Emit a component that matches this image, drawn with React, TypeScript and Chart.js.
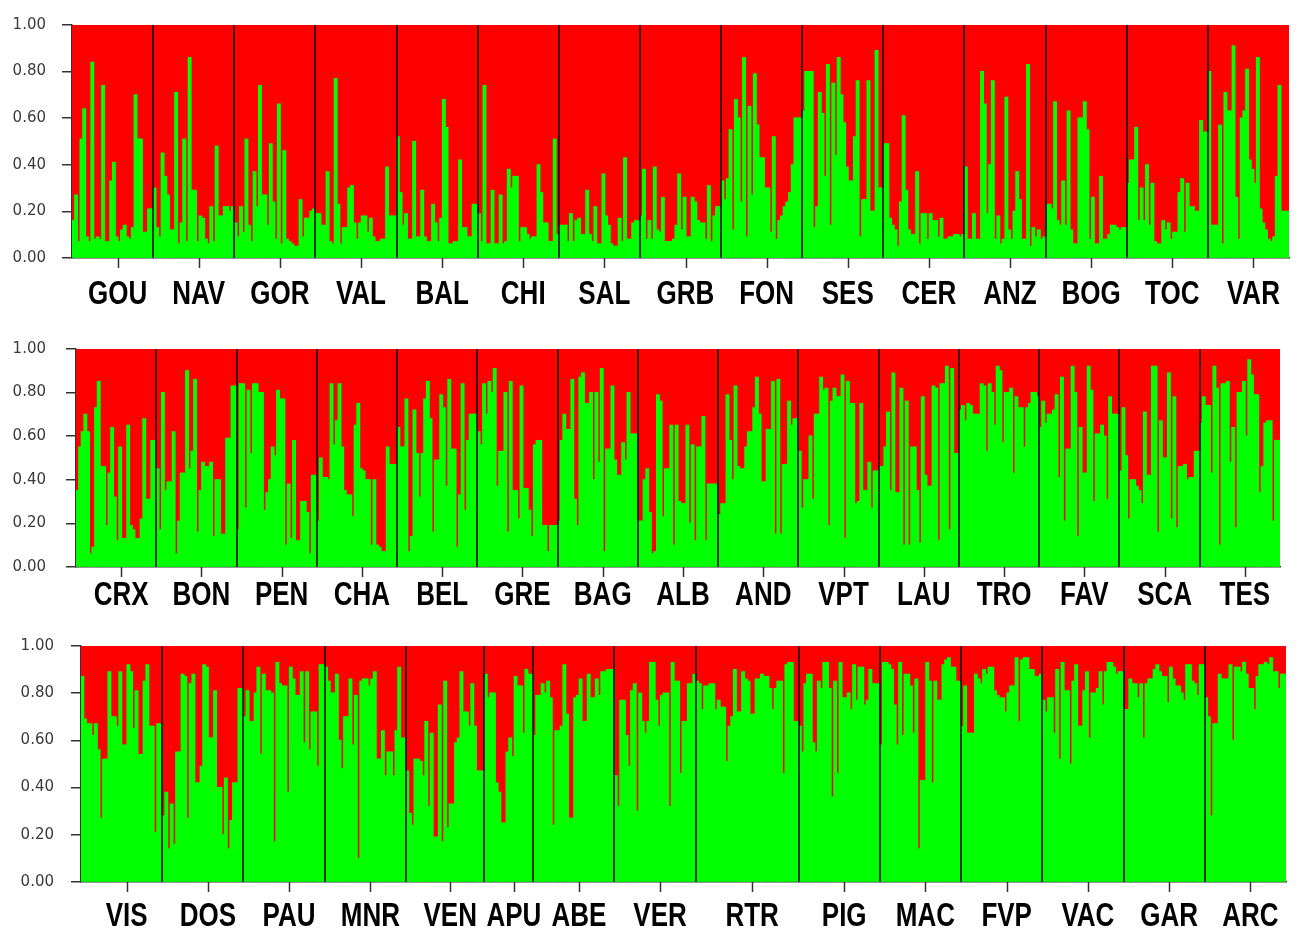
import React, { useEffect, useRef } from "react";
import { Chart, registerables } from "chart.js";

Chart.register(...registerables);
Chart.defaults.font.family = '"Liberation Sans", Arial, sans-serif';

// ---- Panel 1 populations (membership in green cluster, %) ----
const GOU = [16,27,7,51,64,9,7,84,8,9,8,74,7,7,33,41,9,7,12,14,9,8,13,70,51,51,11,11,21,21];
const NAV = [30,13,9,45,35,27,12,12,71,6,15,51,7,86,29,29,7,18,17,8,6,22,7,48,18,18,22,22,20,22];
const GOR = [15,9,22,11,51,14,7,37,22,74,27,27,14,49,24,8,66,6,46,8,7,6,5,5,25,9,17,17,20,21];
const VAL = [19,19,14,14,37,7,6,77,23,6,13,13,30,31,15,8,15,18,18,11,17,9,7,7,8,8,39,18,18,18];
const BAL = [52,28,14,19,8,8,50,9,9,29,9,7,7,23,15,7,17,68,56,6,6,7,7,42,13,13,9,9,23,23];
const CHI = [19,7,74,6,6,29,6,6,27,6,7,38,30,35,35,7,13,13,10,8,9,9,40,28,15,15,7,7,51,10];
const SAL = [14,14,14,7,19,7,16,17,10,10,29,10,7,22,6,6,36,18,14,6,5,5,17,7,43,8,8,15,16,16];
const GRB = [18,38,8,16,8,39,12,11,26,7,7,7,8,14,36,12,26,9,9,26,24,16,15,15,8,31,7,18,22,22];
const FON = [33,25,34,55,12,68,60,24,86,9,65,27,79,57,43,43,30,30,11,52,8,16,18,22,24,28,40,60,60,60];
const SES = [63,80,80,80,13,22,71,62,35,83,14,75,44,86,70,58,39,33,33,52,76,9,25,25,76,20,20,89,30,30];
const CER = [49,49,17,14,12,5,24,61,29,12,10,10,37,6,19,19,8,19,16,16,9,17,8,8,9,9,10,10,9,10];
const ANZ = [39,8,8,19,8,8,80,66,19,40,76,8,18,6,8,69,12,8,20,37,25,8,8,83,5,13,9,12,8,9];
const BOG = [23,23,21,67,16,14,33,14,63,12,6,6,60,60,67,55,8,26,6,6,35,8,8,10,14,14,13,12,13,13];
const TOC = [32,42,42,56,16,30,16,40,14,32,7,6,6,16,12,15,8,11,11,28,34,11,32,22,22,20,20,59,54,54];
const VAR = [80,14,14,14,57,6,71,63,63,91,26,8,60,63,81,42,38,32,86,21,15,12,8,7,9,35,74,20,20,20];

// ---- Panel 2 populations ----
const CRX = [35,55,62,70,62,6,9,73,85,46,46,19,43,64,32,12,55,13,13,65,19,17,13,13,22,68,31,31,58,58];
const BON = [45,17,80,35,39,39,62,6,21,43,43,90,45,53,86,16,35,48,46,46,48,14,40,40,15,15,59,59,83,83];
const PEN = [17,84,84,27,81,52,84,84,80,80,26,34,40,55,51,81,77,77,10,38,13,58,12,12,30,30,25,6,42,42];
const CHA = [21,50,41,41,40,84,56,67,84,55,35,33,33,23,65,75,45,44,40,40,10,40,10,9,7,7,55,47,47,47];
const BEL = [64,55,55,77,7,14,72,52,32,52,77,85,68,16,49,49,79,73,37,86,54,54,9,33,84,26,58,70,70,70];
const GRE = [62,56,84,70,85,80,91,37,53,53,80,16,85,35,35,22,83,36,36,26,14,56,58,58,19,19,7,19,19,19];
const BAG = [21,58,70,63,63,86,31,19,87,89,75,75,80,40,80,48,91,7,54,54,83,49,42,42,57,49,80,61,61,61];
const ALB = [21,21,40,45,25,6,7,79,76,23,45,45,65,10,65,30,29,29,65,20,56,12,55,55,69,12,38,38,38,38];
const AND = [24,29,29,79,58,40,83,46,45,45,55,62,62,73,87,70,39,39,63,63,85,15,86,15,47,47,76,65,68,68];
const VPT = [53,27,40,40,60,31,70,70,87,81,82,19,76,82,78,78,88,13,85,75,75,29,30,75,35,35,48,27,44,44];
const LAU = [46,46,55,71,35,89,34,34,82,10,76,10,55,55,35,11,78,42,37,37,83,82,12,84,84,92,17,91,52,52];
const TRO = [72,74,67,75,74,70,70,70,84,83,53,84,80,65,92,90,57,80,80,82,43,78,73,73,55,73,75,80,80,78];
const FAV = [64,76,66,70,70,72,79,41,87,21,54,54,92,80,14,64,43,43,92,81,30,61,61,65,60,31,78,70,70,70];
const SCA = [44,73,51,22,40,40,37,35,29,71,42,42,92,92,16,67,50,50,89,22,78,18,46,46,47,40,41,41,53,53];
const TES = [66,78,74,74,43,92,82,10,84,84,85,48,64,18,80,80,85,60,95,88,79,79,34,46,66,67,67,21,58,58];

// ---- Panel 3 populations ----
const VIS = [87,69,67,67,62,67,56,27,52,52,89,70,70,66,89,58,58,92,89,65,81,54,54,85,92,66,66,21,67,67];
const DOS = [28,38,14,33,16,55,55,88,87,27,84,88,42,42,49,92,91,61,61,81,40,40,20,44,14,26,42,42,82,82];
const PAU = [70,81,68,68,80,91,54,88,81,81,80,17,93,84,83,83,38,91,86,79,79,89,59,89,56,72,72,49,92,92];
const MNR = [91,85,80,80,88,60,48,70,70,86,58,79,10,85,86,86,83,86,89,52,52,64,45,55,55,45,64,91,61,61];
const VEN = [47,29,24,52,52,51,45,68,32,63,19,19,75,17,85,23,33,33,59,61,89,72,72,66,84,66,47,47,47];
const APU = [88,78,80,80,42,38,25,25,55,61,53,87,83,83,63,90,88,88];
const ABE = [62,79,79,84,80,85,78,24,64,64,66,92,71,27,27,78,79,86,68,68,88,78,78,86,79,89,89,90,90,90];
const VER = [45,32,77,77,62,49,81,84,30,80,68,63,68,93,93,77,66,79,80,80,32,93,85,85,46,68,68,84,84,88];
const RTR = [85,84,73,83,83,84,84,73,77,74,74,51,66,70,90,72,72,89,86,85,71,71,86,86,88,87,87,82,73,82,85,85,46,92,93,93,68,68];
const PIG = [66,55,84,88,88,59,55,85,82,93,93,82,36,85,46,93,78,78,80,73,92,77,91,91,75,77,90,84,84,84];
const MAC = [58,93,93,92,90,75,58,93,62,88,88,83,63,86,14,43,43,93,85,42,85,77,77,92,94,95,91,91,85,85];
const FVP = [66,83,63,63,63,88,86,84,90,88,91,91,81,79,78,78,72,80,83,83,95,68,94,95,95,90,90,87,87,88];
const VAC = [77,72,78,78,63,90,52,93,81,81,50,85,92,66,66,81,89,61,80,80,82,89,75,89,93,93,91,88,89,89];
const GAR = [73,73,86,84,84,78,84,61,84,86,86,90,92,89,87,87,76,91,86,83,83,80,77,92,92,85,84,79,92,92];
const ARC = [78,70,28,67,67,88,86,86,86,92,60,91,91,89,93,88,82,82,73,87,92,92,93,92,95,89,89,82,88,88];

const panel1Names = ["GOU","NAV","GOR","VAL","BAL","CHI","SAL","GRB","FON","SES","CER","ANZ","BOG","TOC","VAR"];
const panel1Values = [GOU,NAV,GOR,VAL,BAL,CHI,SAL,GRB,FON,SES,CER,ANZ,BOG,TOC,VAR];
const panel2Names = ["CRX","BON","PEN","CHA","BEL","GRE","BAG","ALB","AND","VPT","LAU","TRO","FAV","SCA","TES"];
const panel2Values = [CRX,BON,PEN,CHA,BEL,GRE,BAG,ALB,AND,VPT,LAU,TRO,FAV,SCA,TES];
const panel3Names = ["VIS","DOS","PAU","MNR","VEN","APU","ABE","VER","RTR","PIG","MAC","FVP","VAC","GAR","ARC"];
const panel3Values = [VIS,DOS,PAU,MNR,VEN,APU,ABE,VER,RTR,PIG,MAC,FVP,VAC,GAR,ARC];

type PanelCfg = {
  names: string[];
  values: number[][];
  top: number;
  height: number;
  padTop: number;
  padRight: number;
  axisLeft: number;
  xAxisH: number;
  labelDy: number;
  yPad: number;
};

const PANELS: PanelCfg[] = [
  { names: panel1Names, values: panel1Values, top: 0, height: 320, padTop: 21, padRight: 9, axisLeft: 72, xAxisH: 62, labelDy: 37, yPad: 16 },
  { names: panel2Names, values: panel2Values, top: 320, height: 300, padTop: 11, padRight: 18, axisLeft: 76, xAxisH: 53, labelDy: 29, yPad: 20 },
  { names: panel3Names, values: panel3Values, top: 620, height: 309, padTop: 24, padRight: 12, axisLeft: 81, xAxisH: 47, labelDy: 35, yPad: 17 },
];

const decorPlugin = {
  id: "decor",
  afterDraw(chart: any, _args: any, opts: any) {
    const { ctx, chartArea: a } = chart;
    const x = chart.scales.x;
    const sizes: number[] = opts.sizes;
    const names: string[] = opts.names;
    const half = (x.getPixelForValue(1) - x.getPixelForValue(0)) / 2;
    ctx.save();
    let start = 0;
    for (let p = 0; p < sizes.length; p++) {
      const n = sizes[p];
      const left = x.getPixelForValue(start) - half;
      const right = x.getPixelForValue(start + n - 1) + half;
      if (p > 0) {
        const px = Math.round(left);
        ctx.strokeStyle = "#0a0a0a";
        ctx.lineWidth = 1.6;
        ctx.beginPath();
        ctx.moveTo(px, a.top);
        ctx.lineTo(px, a.bottom);
        ctx.stroke();
      }
      const cx = (left + right) / 2 + 5;
      ctx.strokeStyle = "#333";
      ctx.lineWidth = 1.5;
      ctx.beginPath();
      ctx.moveTo(Math.round(cx) + 0.5, a.bottom);
      ctx.lineTo(Math.round(cx) + 0.5, a.bottom + 10);
      ctx.stroke();
      ctx.save();
      ctx.translate(cx, a.bottom + opts.labelDy);
      ctx.scale(1, 1.25);
      ctx.font = 'bold 26px "Liberation Sans", Arial, sans-serif';
      ctx.fillStyle = "#000";
      ctx.textAlign = "center";
      ctx.textBaseline = "middle";
      ctx.fillText(names[p], 0, 0);
      ctx.restore();
      start += n;
    }
    ctx.restore();
  },
};

function Panel({ cfg }: { cfg: PanelCfg }) {
  const ref = useRef<HTMLCanvasElement | null>(null);
  useEffect(() => {
    if (!ref.current) return;
    const green: number[] = [];
    const red: number[] = [];
    const labels: string[] = [];
    cfg.values.forEach((arr, p) => {
      arr.forEach((v, i) => {
        green.push(v / 100);
        red.push(1 - v / 100);
        labels.push(cfg.names[p] + "-" + (i + 1));
      });
    });
    const chart = new Chart(ref.current, {
      type: "bar",
      data: {
        labels,
        datasets: [
          { data: green, backgroundColor: "#00ff00", borderWidth: 0, barPercentage: 1, categoryPercentage: 1, inflateAmount: 0.6 } as any,
          { data: red, backgroundColor: "#ff0000", borderWidth: 0, barPercentage: 1, categoryPercentage: 1, inflateAmount: 0.6 } as any,
        ],
      },
      options: {
        animation: false,
        responsive: false,
        devicePixelRatio: 1,
        events: [],
        layout: { padding: { top: cfg.padTop, right: cfg.padRight, left: 0, bottom: 0 } },
        plugins: {
          legend: { display: false },
          tooltip: { enabled: false },
          decor: { sizes: cfg.values.map((a) => a.length), names: cfg.names, labelDy: cfg.labelDy },
        } as any,
        scales: {
          x: {
            stacked: true,
            z: 1,
            ticks: { display: false },
            grid: { display: false },
            border: { display: true, color: "#333", width: 1.5 },
            afterFit: (s: any) => { s.height = cfg.xAxisH; },
          } as any,
          y: {
            stacked: true,
            min: 0,
            max: 1,
            z: 1,
            ticks: {
              stepSize: 0.2,
              padding: cfg.yPad,
              color: "#3a3a3a",
              font: { size: 15, family: '"DejaVu Sans", sans-serif' },
              callback: (v: any) => Number(v).toFixed(2),
            },
            grid: { drawOnChartArea: false, drawTicks: true, tickLength: 10, color: "#333", lineWidth: 1.5 },
            border: { display: true, color: "#333", width: 1.5 },
            afterFit: (s: any) => { s.width = cfg.axisLeft; },
          } as any,
        },
      },
      plugins: [decorPlugin],
    });
    return () => chart.destroy();
  }, [cfg]);
  return (
    <canvas
      ref={ref}
      width={1298}
      height={cfg.height}
      style={{ position: "absolute", left: 0, top: cfg.top, width: 1298, height: cfg.height, display: "block" }}
    />
  );
}

export default function App() {
  return (
    <div style={{ position: "absolute", left: 0, top: 0, width: 1298, height: 929, background: "#fff" }}>
      {PANELS.map((cfg, i) => (
        <Panel key={i} cfg={cfg} />
      ))}
    </div>
  );
}
